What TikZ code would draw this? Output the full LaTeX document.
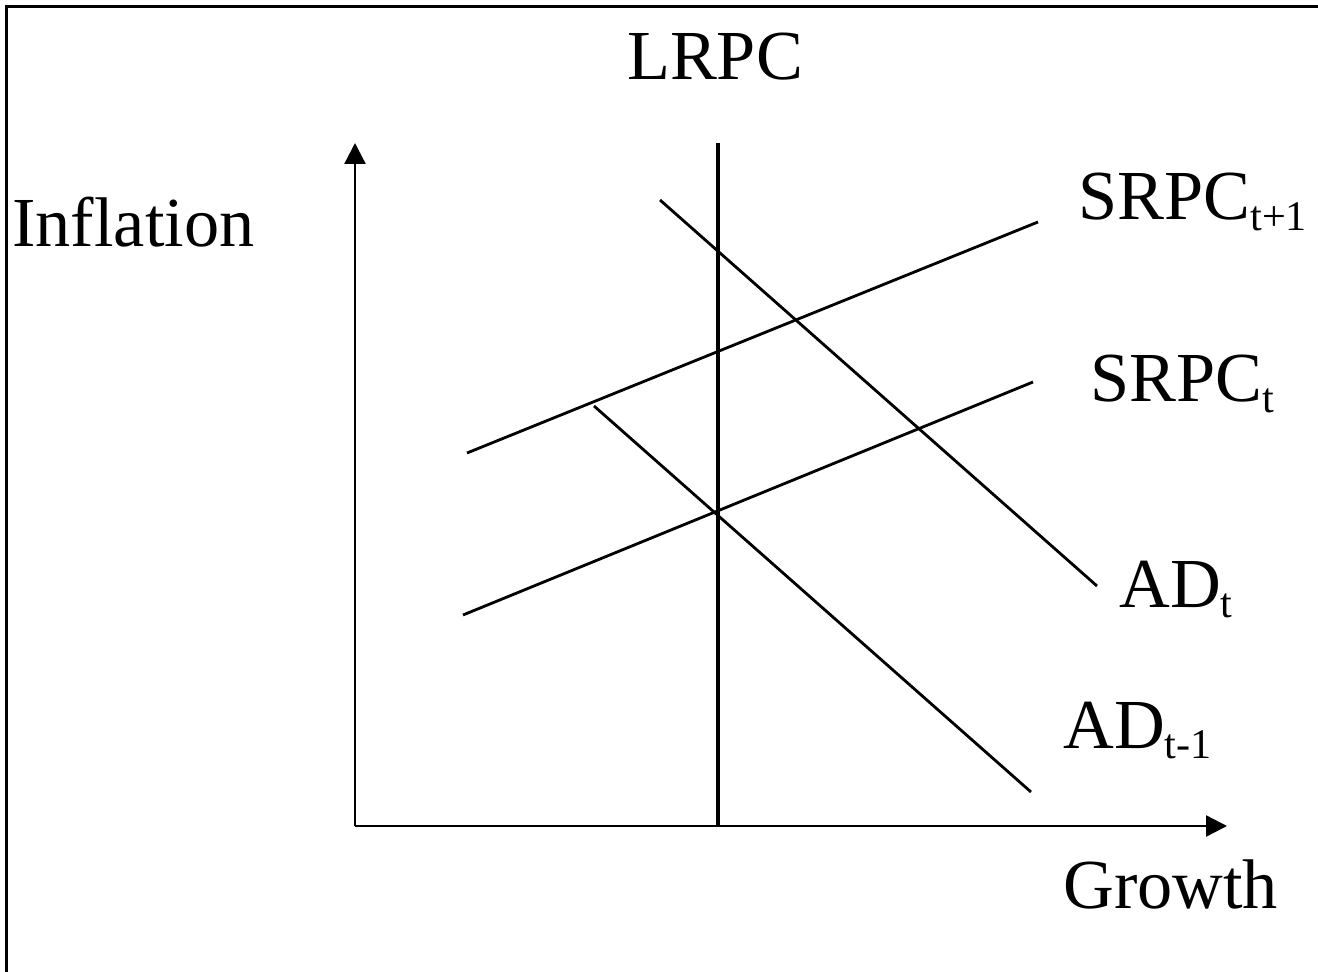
\documentclass[tikz,border=0pt]{standalone}
\usepackage{fontspec}
\setmainfont{Liberation Serif}
\usetikzlibrary{arrows.meta}

\newcommand{\lowsub}[1]{\raisebox{-6pt}{\fontsize{24}{27}\selectfont #1}}

\begin{document}
\begin{tikzpicture}[
    x=0.02cm, y=-0.02cm,
    font=\fontsize{40}{48}\selectfont,
    frame/.style={draw=black, line width=1.8pt},
    axis/.style={draw=black, line width=1.3pt, -{Triangle[length=0.42cm, width=0.42cm]}},
    curve/.style={draw=black, line width=1.6pt},
    lbl/.style={inner sep=0pt, anchor=base west}
]
\useasboundingbox (0,0) rectangle (1318,972);

% outer frame: top and left only
\draw[frame] (5,6.5) -- (1318,6.5);
\draw[frame] (6.5,6) -- (6.5,972);

% axes
\coordinate (O) at (355,826);
\coordinate (ytop) at (355,143);
\coordinate (xend) at (1227,826);
\draw[axis] (O) -- (ytop);
\draw[axis] (O) -- (xend);

% long-run Phillips curve
\coordinate (lrT) at (718,143);
\coordinate (lrB) at (718,826);
\draw[curve, line width=1.8pt] (lrB) -- (lrT);

% short-run Phillips curves
\coordinate (s1a) at (467,453);
\coordinate (s1b) at (1038,222);
\coordinate (s0a) at (463,615);
\coordinate (s0b) at (1033,382);
\draw[curve] (s1a) -- (s1b);
\draw[curve] (s0a) -- (s0b);

% aggregate demand
\coordinate (ad1a) at (660,200);
\coordinate (ad1b) at (1097,586);
\coordinate (ad0a) at (594,406);
\coordinate (ad0b) at (1031,792);
\draw[curve] (ad1a) -- (ad1b);
\draw[curve] (ad0a) -- (ad0b);

% labels
\node[inner sep=0pt, anchor=base] (lrpc) at (715,80) {LRPC};
\node[lbl] (infl) at (12,247) {Inflation};
\node[lbl] (grow) at (1063,908) {Growth};
\node[lbl] (srpc1) at (1078,220) {SRPC\lowsub{t+1}};
\node[lbl] (srpc0) at (1090,402) {SRPC\lowsub{t}};
\node[lbl] (adt) at (1119,607) {AD\lowsub{t}};
\node[lbl] (adt1) at (1063,748) {AD\lowsub{t-1}};
\end{tikzpicture}
\end{document}
